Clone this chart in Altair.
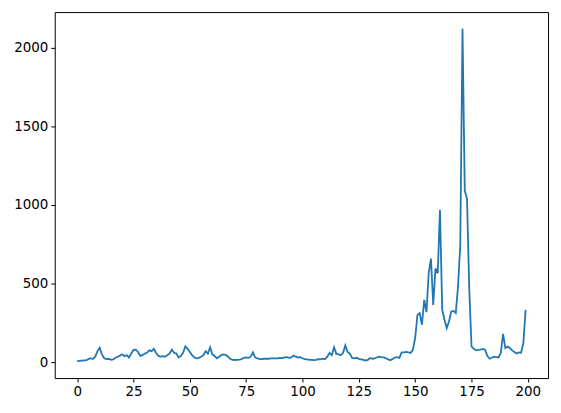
import altair as alt
import pandas as pd

values = [
    5, 8, 10, 12, 12, 20, 25, 20, 35, 70,
    92, 50, 25, 20, 22, 15, 18, 28, 35, 42,
    50, 38, 45, 30, 55, 78, 80, 65, 40, 45,
    55, 60, 75, 70, 85, 60, 40, 35, 38, 35,
    45, 55, 80, 60, 55, 30, 40, 60, 100, 85,
    65, 45, 30, 25, 28, 35, 45, 70, 55, 95,
    50, 40, 25, 35, 45, 50, 45, 35, 20, 15,
    14, 15, 16, 20, 28, 30, 28, 35, 63, 30,
    25, 20, 20, 22, 23, 22, 24, 25, 25, 24,
    28, 26, 30, 32, 28, 30, 42, 35, 30, 32,
    25, 20, 18, 15, 15, 13, 15, 20, 18, 22,
    20, 35, 59, 45, 95, 53, 50, 44, 60, 107,
    65, 55, 27, 25, 28, 21, 18, 15, 11, 15,
    27, 22, 25, 30, 35, 32, 30, 25, 18, 13,
    20, 30, 32, 28, 63, 63, 65, 63, 59, 80,
    154, 301, 312, 238, 396, 318, 565, 659, 364, 596,
    565, 969, 333, 270, 217, 259, 322, 326, 312, 480,
    743, 2120, 1091, 1038, 460, 101, 85, 75, 78, 80,
    85, 80, 40, 22, 28, 35, 33, 30, 60, 180,
    90, 100, 90, 75, 65, 55, 62, 60, 120, 333,
]
index = list(range(len(values)))

x_ticks = [0, 25, 50, 75, 100, 125, 150, 175, 200]
y_ticks = [0, 500, 1000, 1500, 2000]

df = pd.DataFrame({"i": index, "v": values})

line = alt.Chart(df).mark_line(color="#1f77b4", strokeWidth=1.8).encode(
    x=alt.X("i:Q", scale=alt.Scale(domain=[-9.95, 208.95], nice=False, zero=False),
            axis=alt.Axis(values=x_ticks, title=None, grid=False, labelFlush=False, format="d")),
    y=alt.Y("v:Q", scale=alt.Scale(domain=[-100.75, 2225.75], nice=False, zero=False),
            axis=alt.Axis(values=y_ticks, title=None, grid=False, format="d")),
)

chart = line.properties(
    width=496, height=368,
    autosize=alt.AutoSizeParams(type="none"),
    padding={"left": 47, "top": 3, "right": 5, "bottom": 25},
).configure_view(
    stroke="black", strokeWidth=1
).configure_axis(
    domain=False,
    tickColor="black", tickSize=4, tickWidth=1,
    labelColor="black", labelFont="DejaVu Sans", labelFontSize=13.5,
    labelPadding=3,
)

chart.save("out.html", embed_options={"renderer": "svg", "actions": False})
